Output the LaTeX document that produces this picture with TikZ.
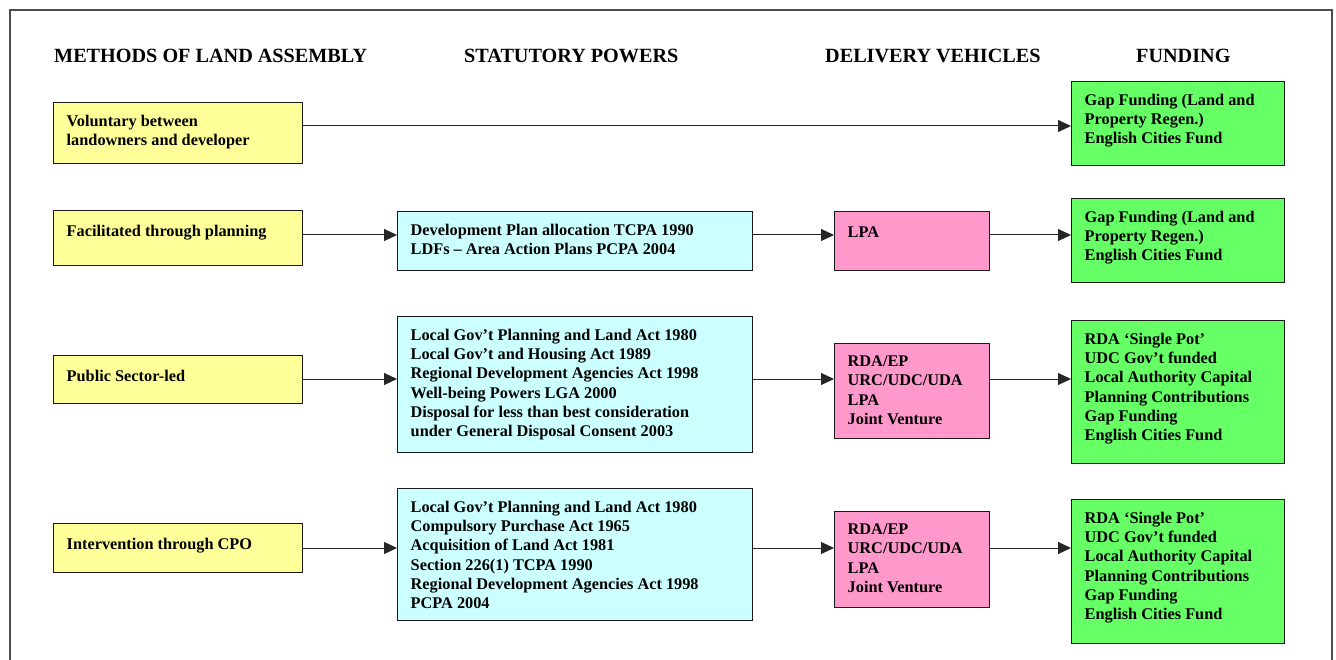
\documentclass[tikz,border=0pt]{standalone}
\usepackage{fontspec}
\setmainfont{Liberation Serif}
\usetikzlibrary{arrows.meta}
\definecolor{methodfill}{HTML}{FFFF99}
\definecolor{powerfill}{HTML}{CCFFFF}
\definecolor{vehiclefill}{HTML}{FF99CC}
\definecolor{fundfill}{HTML}{66FF66}
\begin{document}
\begin{tikzpicture}[x=1pt,y=-1pt,
  box/.style={draw=black!90, line width=1.3pt, inner sep=0pt, anchor=north west},
  method/.style={box, fill=methodfill, minimum width=249pt},
  power/.style={box, fill=powerfill, minimum width=355pt},
  vehicle/.style={box, fill=vehiclefill, minimum width=155pt},
  fund/.style={box, fill=fundfill, minimum width=213pt},
  txt/.style={anchor=north west, inner sep=0pt, align=left,
    font=\bfseries\fontsize{16.3}{19.35}\selectfont, execute at begin node=\strut},
  head/.style={anchor=base west, inner sep=0pt, font=\bfseries\fontsize{20.2}{24}\selectfont},
  link/.style={draw=black!85, line width=1pt, -{Triangle[length=13pt,width=12pt]}}]
\useasboundingbox (0,0) rectangle (1336,660);
\fill[white] (0,0) rectangle (1336,660);
% outer frame
\draw[draw=black!70, line width=1.5pt] (10,680) -- (10,10) -- (1332,10) -- (1332,680);

% column headings
\node[head] (h1) at (54,62.5) {METHODS OF LAND ASSEMBLY};
\node[head] (h2) at (464,62.5) {STATUTORY POWERS};
\node[head] (h3) at (825,62.5) {DELIVERY VEHICLES};
\node[head] (h4) at (1136,62.5) {FUNDING};

% boxes
\node[method, minimum height=61pt] (m1) at (53,102) {};
\node[method, minimum height=55pt] (m2) at (53,210) {};
\node[method, minimum height=48pt] (m3) at (53,355) {};
\node[method, minimum height=49pt] (m4) at (53,523) {};

\node[power, minimum height=59pt] (s2) at (397,211) {};
\node[power, minimum height=136pt] (s3) at (397,316) {};
\node[power, minimum height=132pt] (s4) at (397,488) {};

\node[vehicle, minimum height=59pt] (v2) at (834,211) {};
\node[vehicle, minimum height=95pt] (v3) at (834,343) {};
\node[vehicle, minimum height=96pt] (v4) at (834,511) {};

\node[fund, minimum height=84pt] (f1) at (1071,81) {};
\node[fund, minimum height=84pt] (f2) at (1071,198) {};
\node[fund, minimum height=143pt] (f3) at (1071,320) {};
\node[fund, minimum height=144pt] (f4) at (1071,499) {};

% box texts
\tikzset{inset/.style={shift={(13.5pt,-12.5pt)}}}
\node[txt] (m1t) at ([inset]m1.north west) {Voluntary between\\landowners and developer};
\node[txt] (m2t) at ([inset]m2.north west) {Facilitated through planning};
\node[txt] (m3t) at ([inset]m3.north west) {Public Sector-led};
\node[txt] (m4t) at ([inset]m4.north west) {Intervention through CPO};

\node[txt] (s2t) at ([inset]s2.north west) {Development Plan allocation TCPA 1990\\LDFs -- Area Action Plans PCPA 2004};
\node[txt] (s3t) at ([inset]s3.north west) {Local Gov’t Planning and Land Act 1980\\Local Gov’t and Housing Act 1989\\Regional Development Agencies Act 1998\\Well-being Powers LGA 2000\\Disposal for less than best consideration\\under General Disposal Consent 2003};
\node[txt] (s4t) at ([inset]s4.north west) {Local Gov’t Planning and Land Act 1980\\Compulsory Purchase Act 1965\\Acquisition of Land Act 1981\\Section 226(1) TCPA 1990\\Regional Development Agencies Act 1998\\PCPA 2004};

\node[txt] (v2t) at ([inset]v2.north west) {LPA};
\node[txt] (v3t) at ([inset]v3.north west) {RDA/EP\\URC/UDC/UDA\\LPA\\Joint Venture};
\node[txt] (v4t) at ([inset]v4.north west) {RDA/EP\\URC/UDC/UDA\\LPA\\Joint Venture};

\node[txt] (f1t) at ([inset]f1.north west) {Gap Funding (Land and\\Property Regen.)\\English Cities Fund};
\node[txt] (f2t) at ([inset]f2.north west) {Gap Funding (Land and\\Property Regen.)\\English Cities Fund};
\node[txt] (f3t) at ([inset]f3.north west) {RDA ‘Single Pot’\\UDC Gov’t funded\\Local Authority Capital\\Planning Contributions\\Gap Funding\\English Cities Fund};
\node[txt] (f4t) at ([inset]f4.north west) {RDA ‘Single Pot’\\UDC Gov’t funded\\Local Authority Capital\\Planning Contributions\\Gap Funding\\English Cities Fund};

% row levels of the connectors
\coordinate (r1) at (0,126);
\coordinate (r2) at (0,235);
\coordinate (r3) at (0,379);
\coordinate (r4) at (0,548);

% connectors
\draw[link] (m1.east |- r1) -- (f1.west |- r1);

\draw[link] (m2.east |- r2) -- (s2.west |- r2);
\draw[link] (s2.east |- r2) -- (v2.west |- r2);
\draw[link] (v2.east |- r2) -- (f2.west |- r2);

\draw[link] (m3.east |- r3) -- (s3.west |- r3);
\draw[link] (s3.east |- r3) -- (v3.west |- r3);
\draw[link] (v3.east |- r3) -- (f3.west |- r3);

\draw[link] (m4.east |- r4) -- (s4.west |- r4);
\draw[link] (s4.east |- r4) -- (v4.west |- r4);
\draw[link] (v4.east |- r4) -- (f4.west |- r4);
\end{tikzpicture}
\end{document}
